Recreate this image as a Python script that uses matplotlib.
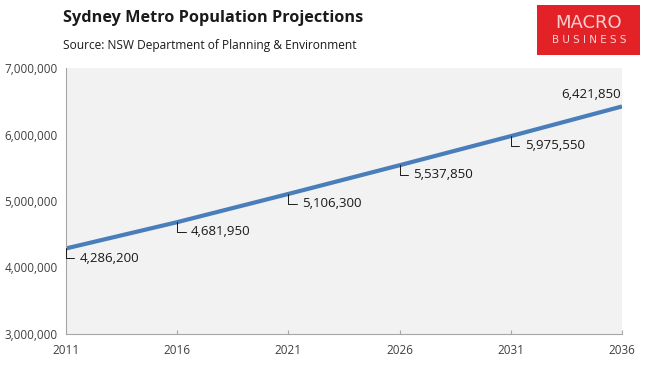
import matplotlib.pyplot as plt
from matplotlib.patches import Rectangle
from matplotlib.ticker import FuncFormatter

plt.rcParams['font.family'] = ['Open Sans', 'DejaVu Sans']

years = [2011, 2016, 2021, 2026, 2031, 2036]
population = [4286200, 4681950, 5106300, 5537850, 5975550, 6421850]
year_labels = ['2011', '2016', '2021', '2026', '2031', '2036']
y_ticks = [3000000, 4000000, 5000000, 6000000, 7000000]

fig = plt.figure(figsize=(6.5, 3.65), dpi=100)
ax = fig.add_axes([66/650, 1-334/365, 556/650, 266/365])
ax.set_facecolor('#f2f2f2')

ax.plot(years, population, color='#4a7ebb', lw=3, solid_capstyle='butt')

ax.set_xlim(years[0], years[-1])
ax.set_ylim(3000000, 7000000)
ax.set_xticks(years)
ax.set_xticklabels(year_labels)
ax.set_yticks(y_ticks)
ax.yaxis.set_major_formatter(FuncFormatter(lambda v, p: f'{int(v):,}'))

for s in ['top', 'right']:
    ax.spines[s].set_visible(False)
for s in ['left', 'bottom']:
    ax.spines[s].set_color('#a6a6a6')
    ax.spines[s].set_linewidth(0.8)
ax.tick_params(axis='x', direction='in', length=3, color='#a6a6a6', labelsize=8.5,
               labelcolor='#404040', pad=7)
ax.tick_params(axis='y', length=0, labelsize=8.5, labelcolor='#404040', pad=6)

# data labels with small leader lines
for yr, val in zip(years[:-1], population[:-1]):
    ax.annotate(f'{val:,}', xy=(yr, val), xytext=(10, -7), textcoords='offset points',
                ha='left', va='center', fontsize=9.5, color='#1a1a1a',
                arrowprops=dict(arrowstyle='-', color='#1a1a1a', lw=0.7,
                                connectionstyle='angle,angleA=0,angleB=90,rad=0',
                                shrinkA=2, shrinkB=0))
ax.annotate(f'{population[-1]:,}', xy=(years[-1], population[-1]), xytext=(-1, 4),
            textcoords='offset points', ha='right', va='bottom', fontsize=9.5,
            color='#1a1a1a')

fig.text(63/650, 1-18/365, 'Sydney Metro Population Projections', fontsize=11.7,
         fontweight='bold', color='#1a1a1a', va='center', ha='left')
fig.text(63/650, 1-46/365, 'Source: NSW Department of Planning & Environment', fontsize=8.6,
         color='#1a1a1a', va='center', ha='left')

# logo
fig.patches.append(Rectangle((537/650, 1-55/365), 103/650, 50/365, transform=fig.transFigure,
                             facecolor='#e32227', edgecolor='none'))
fig.text(589/650, 1-23/365, 'MACRO', fontsize=13, color='#f8d0d0', ha='center', va='center',
         family='DejaVu Sans')
fig.text(589/650, 1-40/365, 'B U S I N E S S', fontsize=7.5, color='#f8d0d0', ha='center',
         va='center', family='DejaVu Sans')

fig.savefig('out.png', dpi=100)
